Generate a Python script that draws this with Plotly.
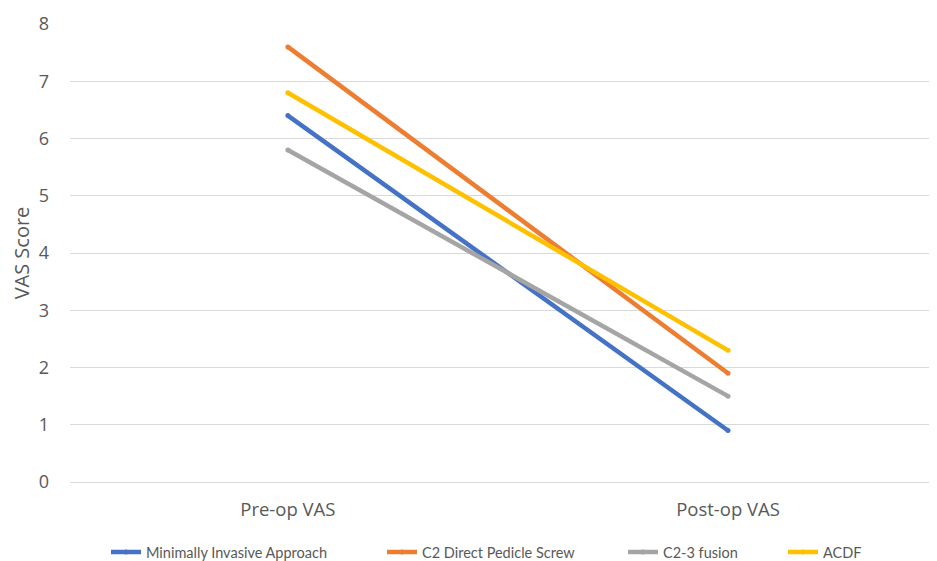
import plotly.graph_objects as go

categories = ["Pre-op VAS", "Post-op VAS"]
series_names = ["Minimally Invasive Approach", "C2 Direct Pedicle Screw", "C2-3 fusion", "ACDF"]
minimally_invasive = [6.4, 0.9]
c2_direct_pedicle = [7.6, 1.9]
c2_3_fusion = [5.8, 1.5]
acdf = [6.8, 2.3]
y_ticks = [0, 1, 2, 3, 4, 5, 6, 7, 8]

colors = ["#4472C4", "#ED7D31", "#A5A5A5", "#FFC000"]
values = [minimally_invasive, c2_direct_pedicle, c2_3_fusion, acdf]
legend_ids = ["legend", "legend2", "legend3", "legend4"]
legend_px = [106, 382, 623, 783]  # left edge of each legend entry (screen px)

fig = go.Figure()
for name, vals, col, lid in zip(series_names, values, colors, legend_ids):
    fig.add_trace(go.Scatter(
        x=categories, y=vals, name=name, mode="lines+markers",
        line=dict(color=col, width=4.5),
        marker=dict(color=col, size=5, line=dict(width=0)),
        legend=lid,
    ))

font_family = "'Open Sans', sans-serif"
layout_legends = {}
for lid, px in zip(legend_ids, legend_px):
    layout_legends[lid] = dict(
        orientation="h", x=(px - 70) / 875, xanchor="left", y=-0.153, yanchor="middle",
        font=dict(size=14.5, color="#595959", family="Lato, sans-serif"),
        bgcolor="rgba(0,0,0,0)", borderwidth=0,
    )

fig.update_layout(
    width=937, height=561,
    margin=dict(l=62, r=0, t=16, b=87, autoexpand=False),
    paper_bgcolor="white", plot_bgcolor="white",
    font=dict(family=font_family, color="#595959"),
    showlegend=True,
    xaxis=dict(type="category", range=[-0.495, 1.493], showgrid=False, zeroline=False,
               showline=False, ticks="", tickfont=dict(size=18.5, color="#595959"),
               ticklabelstandoff=14, automargin=False),
    yaxis=dict(range=[0, 8], tickvals=y_ticks, showgrid=True, gridcolor="#D9D9D9",
               gridwidth=1, zeroline=True, zerolinecolor="#D9D9D9", zerolinewidth=1,
               showline=False, ticks="",
               tickfont=dict(size=18, color="#595959"), ticklabelstandoff=20,
               automargin=False,
               title=dict(text="VAS Score", font=dict(size=20, color="#595959"), standoff=7)),
    **layout_legends,
)

fig.write_html("out.html")
